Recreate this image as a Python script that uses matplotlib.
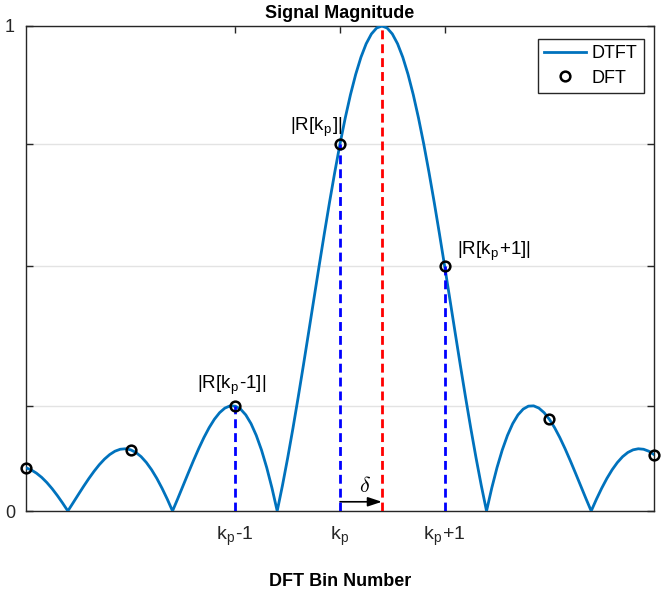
import numpy as np
import matplotlib
matplotlib.use('Agg')
import matplotlib.pyplot as plt

plt.rcParams['font.family'] = ['Liberation Sans', 'DejaVu Sans']
plt.rcParams['mathtext.fontset'] = 'cm'

# DFT bins relative to k_p and the sampled magnitudes
dft_bins = [-3, -2, -1, 0, 1, 2, 3]
dft_mag = [0.0890, 0.1261, 0.2162, 0.7568, 0.5046, 0.1892, 0.1164]

# DTFT magnitude read along the axis, every 0.05 bin from -3 to 3
dtft_bins = np.linspace(-3, 3, 121)
dtft_mag = [0.0890, 0.0847, 0.0780, 0.0693, 0.0585, 0.0459, 0.0317, 0.0163, 0.0,
            0.0169, 0.0339, 0.0507, 0.0668, 0.0818, 0.0954, 0.1070, 0.1164, 0.1233, 0.1273,
            0.1283, 0.1261, 0.1207, 0.1120, 0.1000, 0.0850, 0.0672, 0.0468, 0.0243, 0.0,
            0.0255, 0.0518, 0.0781, 0.1039, 0.1286, 0.1515, 0.1719, 0.1892, 0.2028, 0.2122,
            0.2168, 0.2162, 0.2101, 0.1981, 0.1801, 0.1559, 0.1257, 0.0894, 0.0474, 0.0,
            0.0524, 0.1093, 0.1700, 0.2339, 0.3001, 0.3679, 0.4363, 0.5046, 0.5716, 0.6366,
            0.6985, 0.7568, 0.8103, 0.8584, 0.9003, 0.9355, 0.9634, 0.9836, 0.9959, 1.0,
            0.9959, 0.9836, 0.9634, 0.9355, 0.9003, 0.8584, 0.8103, 0.7568, 0.6985, 0.6366,
            0.5716, 0.5046, 0.4363, 0.3679, 0.3001, 0.2339, 0.1700, 0.1093, 0.0524, 0.0,
            0.0474, 0.0894, 0.1257, 0.1559, 0.1801, 0.1981, 0.2101, 0.2162, 0.2168, 0.2122,
            0.2028, 0.1892, 0.1719, 0.1515, 0.1286, 0.1039, 0.0781, 0.0518, 0.0255, 0.0,
            0.0243, 0.0468, 0.0672, 0.0850, 0.1000, 0.1120, 0.1207, 0.1261, 0.1283, 0.1273,
            0.1233, 0.1164]

peak_bin = 0.4   # true peak, delta away from k_p
peak_mag = 1.0

xtick_pos = [-1, 0, 1]
xtick_labels = [r'k$_\mathregular{p}$-1', r'k$_\mathregular{p}$', r'k$_\mathregular{p}$+1']
ytick_pos = [0, 0.2162, 0.5046, 0.7568, 1]
ytick_labels = ['0', '', '', '', '1']

fig = plt.figure(figsize=(6.61, 5.96), dpi=100)
ax = fig.add_axes([26/661, 85/596, 628/661, 485/596])

blue = '#0072BD'
ax.plot(dtft_bins, dtft_mag, color=blue, lw=2.0, label='DTFT', zorder=3)

# stems at k_p-1, k_p, k_p+1
for b, m in zip(dft_bins, dft_mag):
    if b in xtick_pos:
        ax.plot([b, b], [0, m], color='b', lw=2.0, dashes=(3.2, 1.8), zorder=4)
ax.plot([peak_bin, peak_bin], [0, peak_mag], color='r', lw=2.0, dashes=(3.2, 1.8), zorder=4)

ax.plot(dft_bins, dft_mag, 'o', ms=7, mfc='none', mec='k', mew=1.8,
        label='DFT', zorder=5, clip_on=False)

# delta arrow
ax.annotate('', xy=(peak_bin, 0.019), xytext=(0, 0.019),
            arrowprops=dict(arrowstyle='-|>,head_length=0.6,head_width=0.2', color='k',
                            lw=1.2, mutation_scale=14, shrinkA=0, shrinkB=0))
ax.text(0.24, 0.05, r'$\delta$', fontsize=16, ha='center', va='center')

ax.text(0.03, 0.783, r'|R[k$_\mathregular{p}$]|', fontsize=13.5, ha='right', va='baseline')
ax.text(1.117, 0.528, r'|R[k$_\mathregular{p}$+1]|', fontsize=13.5, ha='left', va='baseline')
ax.text(-1.366, 0.2515, r'|R[k$_\mathregular{p}$-1]|', fontsize=13.5, ha='left', va='baseline')

ax.set_xlim(-3, 3)
ax.set_ylim(0, 1)
ax.set_xticks(xtick_pos)
ax.set_xticklabels(xtick_labels)
ax.set_yticks(ytick_pos)
ax.set_yticklabels(ytick_labels)
ax.tick_params(direction='in', length=5, width=1, colors='#262626', labelsize=13,
               top=True, right=True, pad=8)
ax.tick_params(axis='x', labelsize=14, pad=10)
ax.grid(axis='y', color='#e3e3e3', lw=1)
ax.set_axisbelow(True)
for s in ax.spines.values():
    s.set_color('#262626')
    s.set_linewidth(1.0)

ax.set_title('Signal Magnitude', fontsize=13, fontweight='bold', pad=6)
ax.set_xlabel('DFT Bin Number', fontsize=13, fontweight='bold', labelpad=18)

leg = ax.legend(loc='upper right', bbox_to_anchor=(0.984, 0.973), borderaxespad=0,
                fontsize=13, fancybox=False, framealpha=1, edgecolor='#262626',
                numpoints=1, handlelength=2.3, handletextpad=0.35, labelspacing=0.4,
                borderpad=0.35)
leg.get_frame().set_linewidth(1.0)

fig.savefig('out.png', dpi=100)
